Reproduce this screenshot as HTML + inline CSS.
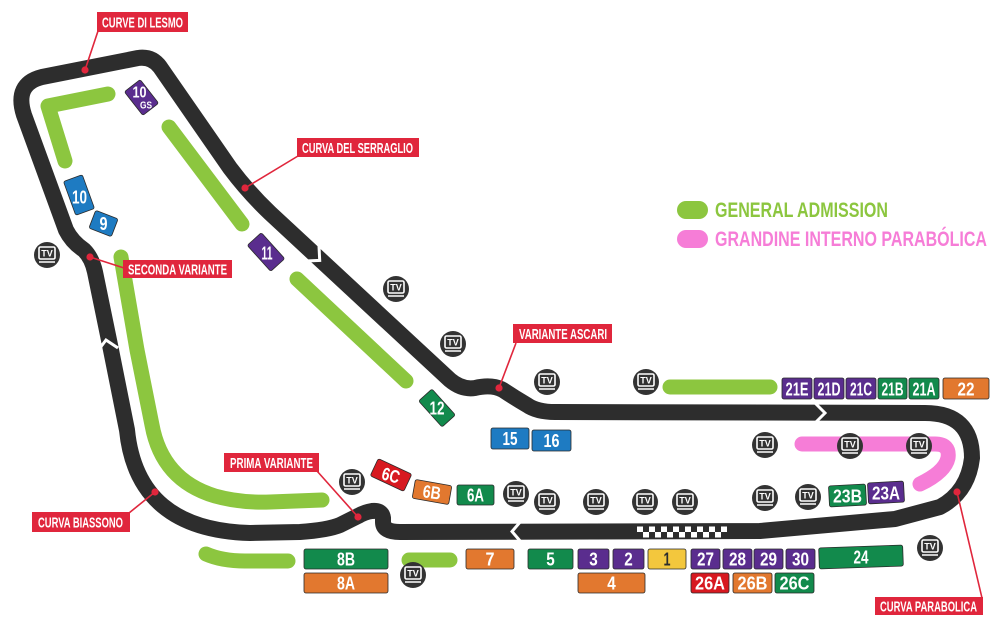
<!DOCTYPE html>
<html>
<head>
<meta charset="utf-8">
<style>
html,body{margin:0;padding:0;background:#fff;}
svg{display:block;}
text{font-family:"Liberation Sans",sans-serif;font-weight:bold;}
</style>
</head>
<body>
<svg width="1000" height="630" viewBox="0 0 1000 630" xmlns="http://www.w3.org/2000/svg">
<rect width="1000" height="630" fill="#fff"/>

<!-- General admission strips -->
<g fill="none" stroke="#8cc63f" stroke-width="15" stroke-linecap="round" stroke-linejoin="round">
  <path d="M108 94 L48 106 L65 161"/>
  <path d="M169 127 L242 224"/>
  <path d="M297 279 L406 381"/>
  <path d="M121 257 L137 350 L152 425 Q162 480 215 496 Q240 503 270 502 L322 500"/>
  <path d="M206 554 Q222 561 245 561 L288 561"/>
  <path d="M409 560 L450 560"/>
  <path d="M670 387 L770 387"/>
</g>
<!-- pink -->
<path d="M802 444 L935 444 Q950 444 948 458 Q945 472 920 484" fill="none" stroke="#f67dd7" stroke-width="15" stroke-linecap="round" stroke-linejoin="round"/>

<!-- Track -->
<path d="M895 519 L760 531 L400 532 Q383 532 383 522 L383 518 Q382 510 372 511 Q365 512 358 516 L340 525 Q328 530 300 532 L250 533 Q137 530 127 430 L110 345 L95 272 Q92 258 84 250 Q72 242 66 230 L24 115 Q14 84 42 77 L138 58 Q152 56 160 67 L230 168 Q248 192 270 213 L450 380 Q462 390 475 388 Q492 384 503 390 Q515 398 527 405 Q537 412 555 412 L925 413 Q972 413 972 458 Q968 492 940 507 Z" fill="none" stroke="#2d2d2d" stroke-width="16" stroke-linejoin="round"/>

<!-- chevrons -->
<g fill="none" stroke="#fff" stroke-width="3" stroke-linejoin="miter">
  <path d="M521 521 L512 531.5 L521 542"/>
  <path d="M815 403 L825 413 L815 423"/>
  <path d="M97 352 L106 340 L118 348"/>
  <path d="M305.5 261 L319.7 260.4 L319 246"/>
</g>

<!-- checker -->
<g fill="#fff">
  <rect x="637" y="526.5" width="6" height="5.5"/><rect x="649" y="526.5" width="6" height="5.5"/><rect x="661" y="526.5" width="6" height="5.5"/><rect x="673" y="526.5" width="6" height="5.5"/><rect x="685" y="526.5" width="6" height="5.5"/><rect x="697" y="526.5" width="6" height="5.5"/><rect x="709" y="526.5" width="6" height="5.5"/><rect x="721" y="526.5" width="6" height="5.5"/>
  <rect x="643" y="532" width="6" height="5.5"/><rect x="655" y="532" width="6" height="5.5"/><rect x="667" y="532" width="6" height="5.5"/><rect x="679" y="532" width="6" height="5.5"/><rect x="691" y="532" width="6" height="5.5"/><rect x="703" y="532" width="6" height="5.5"/><rect x="715" y="532" width="6" height="5.5"/>
</g>

<!-- connectors -->
<g stroke="#e0263c" stroke-width="1.6" fill="none">
  <line x1="98" y1="31" x2="85" y2="70"/>
  <line x1="298" y1="156" x2="245" y2="188"/>
  <line x1="124" y1="268" x2="90" y2="257"/>
  <line x1="516" y1="343" x2="499" y2="388"/>
  <line x1="317" y1="471" x2="358" y2="517"/>
  <line x1="129" y1="513" x2="155" y2="492"/>
  <line x1="982" y1="598" x2="957" y2="492"/>
</g>
<g fill="#e0263c">
  <circle cx="85" cy="70" r="3.6"/>
  <circle cx="245" cy="188" r="3.6"/>
  <circle cx="90" cy="257" r="3.6"/>
  <circle cx="499" cy="388" r="3.6"/>
  <circle cx="358" cy="517" r="3.6"/>
  <circle cx="155" cy="492" r="3.6"/>
  <circle cx="957" cy="492" r="3.6"/>
</g>

<!-- labels -->
<g fill="#e0263c">
  <rect x="97" y="12" width="91" height="20"/>
  <rect x="297" y="138" width="122" height="19"/>
  <rect x="123" y="260" width="109" height="18"/>
  <rect x="513" y="324" width="99" height="19"/>
  <rect x="224" y="453" width="95" height="19"/>
  <rect x="32" y="512" width="98" height="20"/>
  <rect x="875" y="597" width="108" height="18"/>
</g>
<g fill="#fff" font-size="15">
  <text x="102" y="27.5" textLength="81" lengthAdjust="spacingAndGlyphs">CURVE DI LESMO</text>
  <text x="302" y="153" textLength="111" lengthAdjust="spacingAndGlyphs">CURVA DEL SERRAGLIO</text>
  <text x="128" y="274.5" textLength="99" lengthAdjust="spacingAndGlyphs">SECONDA VARIANTE</text>
  <text x="519" y="339" textLength="88" lengthAdjust="spacingAndGlyphs">VARIANTE ASCARI</text>
  <text x="230" y="468" textLength="83" lengthAdjust="spacingAndGlyphs">PRIMA VARIANTE</text>
  <text x="38" y="527.5" textLength="85" lengthAdjust="spacingAndGlyphs">CURVA BIASSONO</text>
  <text x="880" y="611.5" textLength="97" lengthAdjust="spacingAndGlyphs">CURVA PARABOLICA</text>
</g>

<!-- legend -->
<rect x="677" y="201" width="31" height="18" rx="9" fill="#8cc63f"/>
<rect x="677" y="230" width="31" height="18" rx="9" fill="#f67dd7"/>
<text x="715" y="217" font-size="21" fill="#8cc63f" textLength="173" lengthAdjust="spacingAndGlyphs">GENERAL ADMISSION</text>
<text x="715" y="246" font-size="21" fill="#f67dd7" textLength="272" lengthAdjust="spacingAndGlyphs">GRANDINE INTERNO PARABÓLICA</text>

<!-- seat boxes -->
<g stroke="#2a2a2a" stroke-width="0.8">
  <g transform="translate(141.5 97.5) rotate(-38)"><rect x="-10" y="-15" width="20" height="30" rx="2" fill="#5a2d8e"/></g>
  <g transform="translate(79 195) rotate(-20)"><rect x="-10" y="-18" width="20" height="36" rx="2" fill="#1e7bc2"/></g>
  <g transform="translate(103.5 223.5) rotate(21)"><rect x="-12" y="-9.5" width="24" height="19" rx="2" fill="#1e7bc2"/></g>
  <g transform="translate(266 252) rotate(-42)"><rect x="-9.5" y="-17.5" width="19" height="35" rx="2" fill="#5a2d8e"/></g>
  <g transform="translate(437 408) rotate(-42)"><rect x="-9" y="-17.5" width="18" height="35" rx="2" fill="#128a4c"/></g>
  <g transform="translate(391 475) rotate(25)"><rect x="-18.5" y="-9.5" width="37" height="19" rx="2" fill="#d71920"/></g>
  <g transform="translate(432 492) rotate(10)"><rect x="-18.5" y="-9.5" width="37" height="19" rx="2" fill="#e2782f"/></g>
  <g transform="translate(861 557) rotate(-2)"><rect x="-42" y="-10.5" width="84" height="21" rx="2" fill="#128a4c"/></g>
  <g transform="translate(847.5 495.5) rotate(-3)"><rect x="-18.5" y="-10.5" width="37" height="21" rx="2" fill="#128a4c"/></g>
  <g transform="translate(886 492.5) rotate(-3)"><rect x="-18" y="-10.5" width="36" height="21" rx="2" fill="#5a2d8e"/></g>
  <rect x="457" y="485" width="37" height="20" rx="2" fill="#128a4c"/>
  <rect x="491" y="428" width="38" height="21" rx="2" fill="#1e7bc2"/>
  <rect x="532" y="430" width="39" height="21" rx="2" fill="#1e7bc2"/>
  <rect x="304" y="549" width="84" height="20" rx="2" fill="#128a4c"/>
  <rect x="304" y="573" width="84" height="20" rx="2" fill="#e2782f"/>
  <rect x="466" y="549" width="48" height="20" rx="2" fill="#e2782f"/>
  <rect x="528" y="549" width="45" height="20" rx="2" fill="#128a4c"/>
  <rect x="578" y="549" width="31" height="20" rx="2" fill="#5a2d8e"/>
  <rect x="613" y="549" width="31" height="20" rx="2" fill="#5a2d8e"/>
  <rect x="648" y="549" width="38" height="20" rx="2" fill="#f3c73d"/>
  <rect x="691" y="549" width="29" height="20" rx="2" fill="#5a2d8e"/>
  <rect x="723" y="549" width="29" height="20" rx="2" fill="#5a2d8e"/>
  <rect x="754" y="549" width="29" height="20" rx="2" fill="#5a2d8e"/>
  <rect x="786" y="549" width="29" height="20" rx="2" fill="#5a2d8e"/>
  <rect x="578" y="573" width="67" height="20" rx="2" fill="#e2782f"/>
  <rect x="691" y="573" width="38" height="20" rx="2" fill="#d71920"/>
  <rect x="733" y="573" width="39" height="20" rx="2" fill="#e2782f"/>
  <rect x="775" y="573" width="39" height="20" rx="2" fill="#128a4c"/>
  <rect x="782" y="378" width="30" height="21" rx="2" fill="#5a2d8e"/>
  <rect x="814" y="378" width="30" height="21" rx="2" fill="#5a2d8e"/>
  <rect x="846" y="378" width="30" height="21" rx="2" fill="#5a2d8e"/>
  <rect x="878" y="378" width="29" height="21" rx="2" fill="#128a4c"/>
  <rect x="909" y="378" width="30" height="21" rx="2" fill="#128a4c"/>
  <rect x="943" y="378" width="46" height="21" rx="2" fill="#e2782f"/>
</g>

<g fill="#fff" font-size="18" text-anchor="middle">
  <text x="139.5" y="97.5" font-size="16" textLength="14" lengthAdjust="spacingAndGlyphs">10</text>
  <text x="146" y="108.5" font-size="10.5" textLength="12" lengthAdjust="spacingAndGlyphs">GS</text>
  <text x="79.5" y="203.5" textLength="15" lengthAdjust="spacingAndGlyphs">10</text>
  <text x="103.5" y="230" textLength="8" lengthAdjust="spacingAndGlyphs">9</text>
  <text x="267" y="259.5" textLength="11" lengthAdjust="spacingAndGlyphs">11</text>
  <text x="437" y="414.5" textLength="15" lengthAdjust="spacingAndGlyphs">12</text>
  <text x="391" y="481.5" textLength="18" lengthAdjust="spacingAndGlyphs" transform="rotate(15 391 475)">6C</text>
  <text x="432" y="498.5" textLength="18" lengthAdjust="spacingAndGlyphs" transform="rotate(8 432 492)">6B</text>
  <text x="475.5" y="501.5" textLength="17" lengthAdjust="spacingAndGlyphs">6A</text>
  <text x="510" y="445" textLength="15" lengthAdjust="spacingAndGlyphs">15</text>
  <text x="551.5" y="447" textLength="16" lengthAdjust="spacingAndGlyphs">16</text>
  <text x="346" y="565.5" textLength="18" lengthAdjust="spacingAndGlyphs">8B</text>
  <text x="346" y="589.5" textLength="18" lengthAdjust="spacingAndGlyphs">8A</text>
  <text x="490" y="565.5" textLength="9" lengthAdjust="spacingAndGlyphs">7</text>
  <text x="550.5" y="565.5" textLength="8.5" lengthAdjust="spacingAndGlyphs">5</text>
  <text x="593.5" y="565.5" textLength="8.5" lengthAdjust="spacingAndGlyphs">3</text>
  <text x="628.5" y="565.5" textLength="8.5" lengthAdjust="spacingAndGlyphs">2</text>
  <text x="667" y="565.5" textLength="7" lengthAdjust="spacingAndGlyphs" fill="#2d2d2d">1</text>
  <text x="705.5" y="565.5" textLength="17" lengthAdjust="spacingAndGlyphs">27</text>
  <text x="737.5" y="565.5" textLength="17" lengthAdjust="spacingAndGlyphs">28</text>
  <text x="768.5" y="565.5" textLength="17" lengthAdjust="spacingAndGlyphs">29</text>
  <text x="800.5" y="565.5" textLength="17" lengthAdjust="spacingAndGlyphs">30</text>
  <text x="861" y="563.5" textLength="15" lengthAdjust="spacingAndGlyphs">24</text>
  <text x="611.5" y="589.5" textLength="8.5" lengthAdjust="spacingAndGlyphs">4</text>
  <text x="710" y="589.5" textLength="30" lengthAdjust="spacingAndGlyphs">26A</text>
  <text x="752.5" y="589.5" textLength="30" lengthAdjust="spacingAndGlyphs">26B</text>
  <text x="794.5" y="589.5" textLength="30" lengthAdjust="spacingAndGlyphs">26C</text>
  <text x="847.5" y="502.5" textLength="29" lengthAdjust="spacingAndGlyphs">23B</text>
  <text x="886" y="499.5" textLength="28" lengthAdjust="spacingAndGlyphs">23A</text>
  <text x="797" y="395.5" textLength="23" lengthAdjust="spacingAndGlyphs">21E</text>
  <text x="829" y="395.5" textLength="23" lengthAdjust="spacingAndGlyphs">21D</text>
  <text x="861" y="395.5" textLength="22" lengthAdjust="spacingAndGlyphs">21C</text>
  <text x="892.5" y="395.5" textLength="22" lengthAdjust="spacingAndGlyphs">21B</text>
  <text x="924" y="395.5" textLength="23" lengthAdjust="spacingAndGlyphs">21A</text>
  <text x="966" y="395.5" textLength="17" lengthAdjust="spacingAndGlyphs">22</text>
</g>

<!-- TV icons -->
<g>
  <g transform="translate(47 255)"><circle r="13" fill="#333"/><rect x="-8" y="-8" width="16" height="12" rx="1.5" fill="none" stroke="#fff" stroke-width="1.6"/><line x1="-8" y1="7" x2="8" y2="7" stroke="#fff" stroke-width="1.5"/><text y="1.6" font-size="9" fill="#fff" text-anchor="middle">TV</text></g>
  <g transform="translate(396 289)"><circle r="13" fill="#333"/><rect x="-8" y="-8" width="16" height="12" rx="1.5" fill="none" stroke="#fff" stroke-width="1.6"/><line x1="-8" y1="7" x2="8" y2="7" stroke="#fff" stroke-width="1.5"/><text y="1.6" font-size="9" fill="#fff" text-anchor="middle">TV</text></g>
  <g transform="translate(453 344)"><circle r="13" fill="#333"/><rect x="-8" y="-8" width="16" height="12" rx="1.5" fill="none" stroke="#fff" stroke-width="1.6"/><line x1="-8" y1="7" x2="8" y2="7" stroke="#fff" stroke-width="1.5"/><text y="1.6" font-size="9" fill="#fff" text-anchor="middle">TV</text></g>
  <g transform="translate(547 382)"><circle r="13" fill="#333"/><rect x="-8" y="-8" width="16" height="12" rx="1.5" fill="none" stroke="#fff" stroke-width="1.6"/><line x1="-8" y1="7" x2="8" y2="7" stroke="#fff" stroke-width="1.5"/><text y="1.6" font-size="9" fill="#fff" text-anchor="middle">TV</text></g>
  <g transform="translate(646 382)"><circle r="13" fill="#333"/><rect x="-8" y="-8" width="16" height="12" rx="1.5" fill="none" stroke="#fff" stroke-width="1.6"/><line x1="-8" y1="7" x2="8" y2="7" stroke="#fff" stroke-width="1.5"/><text y="1.6" font-size="9" fill="#fff" text-anchor="middle">TV</text></g>
  <g transform="translate(765 445)"><circle r="13" fill="#333"/><rect x="-8" y="-8" width="16" height="12" rx="1.5" fill="none" stroke="#fff" stroke-width="1.6"/><line x1="-8" y1="7" x2="8" y2="7" stroke="#fff" stroke-width="1.5"/><text y="1.6" font-size="9" fill="#fff" text-anchor="middle">TV</text></g>
  <g transform="translate(850 446)"><circle r="13" fill="#333"/><rect x="-8" y="-8" width="16" height="12" rx="1.5" fill="none" stroke="#fff" stroke-width="1.6"/><line x1="-8" y1="7" x2="8" y2="7" stroke="#fff" stroke-width="1.5"/><text y="1.6" font-size="9" fill="#fff" text-anchor="middle">TV</text></g>
  <g transform="translate(919 446)"><circle r="13" fill="#333"/><rect x="-8" y="-8" width="16" height="12" rx="1.5" fill="none" stroke="#fff" stroke-width="1.6"/><line x1="-8" y1="7" x2="8" y2="7" stroke="#fff" stroke-width="1.5"/><text y="1.6" font-size="9" fill="#fff" text-anchor="middle">TV</text></g>
  <g transform="translate(765 498)"><circle r="13" fill="#333"/><rect x="-8" y="-8" width="16" height="12" rx="1.5" fill="none" stroke="#fff" stroke-width="1.6"/><line x1="-8" y1="7" x2="8" y2="7" stroke="#fff" stroke-width="1.5"/><text y="1.6" font-size="9" fill="#fff" text-anchor="middle">TV</text></g>
  <g transform="translate(808 497)"><circle r="13" fill="#333"/><rect x="-8" y="-8" width="16" height="12" rx="1.5" fill="none" stroke="#fff" stroke-width="1.6"/><line x1="-8" y1="7" x2="8" y2="7" stroke="#fff" stroke-width="1.5"/><text y="1.6" font-size="9" fill="#fff" text-anchor="middle">TV</text></g>
  <g transform="translate(930 548)"><circle r="13" fill="#333"/><rect x="-8" y="-8" width="16" height="12" rx="1.5" fill="none" stroke="#fff" stroke-width="1.6"/><line x1="-8" y1="7" x2="8" y2="7" stroke="#fff" stroke-width="1.5"/><text y="1.6" font-size="9" fill="#fff" text-anchor="middle">TV</text></g>
  <g transform="translate(352 482)"><circle r="13" fill="#333"/><rect x="-8" y="-8" width="16" height="12" rx="1.5" fill="none" stroke="#fff" stroke-width="1.6"/><line x1="-8" y1="7" x2="8" y2="7" stroke="#fff" stroke-width="1.5"/><text y="1.6" font-size="9" fill="#fff" text-anchor="middle">TV</text></g>
  <g transform="translate(516 494)"><circle r="13" fill="#333"/><rect x="-8" y="-8" width="16" height="12" rx="1.5" fill="none" stroke="#fff" stroke-width="1.6"/><line x1="-8" y1="7" x2="8" y2="7" stroke="#fff" stroke-width="1.5"/><text y="1.6" font-size="9" fill="#fff" text-anchor="middle">TV</text></g>
  <g transform="translate(547 502)"><circle r="13" fill="#333"/><rect x="-8" y="-8" width="16" height="12" rx="1.5" fill="none" stroke="#fff" stroke-width="1.6"/><line x1="-8" y1="7" x2="8" y2="7" stroke="#fff" stroke-width="1.5"/><text y="1.6" font-size="9" fill="#fff" text-anchor="middle">TV</text></g>
  <g transform="translate(596 502)"><circle r="13" fill="#333"/><rect x="-8" y="-8" width="16" height="12" rx="1.5" fill="none" stroke="#fff" stroke-width="1.6"/><line x1="-8" y1="7" x2="8" y2="7" stroke="#fff" stroke-width="1.5"/><text y="1.6" font-size="9" fill="#fff" text-anchor="middle">TV</text></g>
  <g transform="translate(645 502)"><circle r="13" fill="#333"/><rect x="-8" y="-8" width="16" height="12" rx="1.5" fill="none" stroke="#fff" stroke-width="1.6"/><line x1="-8" y1="7" x2="8" y2="7" stroke="#fff" stroke-width="1.5"/><text y="1.6" font-size="9" fill="#fff" text-anchor="middle">TV</text></g>
  <g transform="translate(685 502)"><circle r="13" fill="#333"/><rect x="-8" y="-8" width="16" height="12" rx="1.5" fill="none" stroke="#fff" stroke-width="1.6"/><line x1="-8" y1="7" x2="8" y2="7" stroke="#fff" stroke-width="1.5"/><text y="1.6" font-size="9" fill="#fff" text-anchor="middle">TV</text></g>
  <g transform="translate(413 575)"><circle r="13" fill="#333"/><rect x="-8" y="-8" width="16" height="12" rx="1.5" fill="none" stroke="#fff" stroke-width="1.6"/><line x1="-8" y1="7" x2="8" y2="7" stroke="#fff" stroke-width="1.5"/><text y="1.6" font-size="9" fill="#fff" text-anchor="middle">TV</text></g>
</g>
</svg>
</body>
</html>
